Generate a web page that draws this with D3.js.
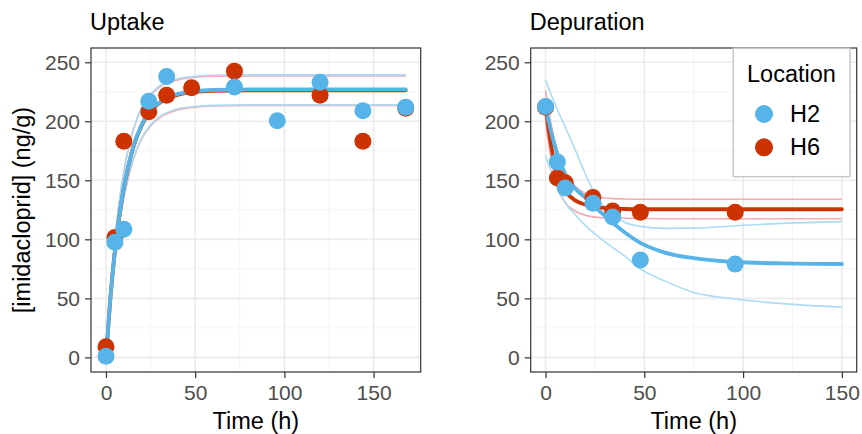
<!DOCTYPE html>
<html>
<head>
<meta charset="utf-8">
<script src="https://cdn.jsdelivr.net/npm/d3@7"></script>
<style>
  html, body { margin: 0; padding: 0; background: #fff; }
  svg { display: block; font-family: "Liberation Sans", Arial, sans-serif; }
</style>
</head>
<body>
<svg id="chart" width="862" height="434"></svg>
<script>
// ── Data ─────────────────────────────────────────────────
const locations = ['H2', 'H6'];
const yTicks    = [0, 50, 100, 150, 200, 250];
const xTicks    = [0, 50, 100, 150];

// Uptake: measured concentrations (null = no sample shown)
const uptakeTime = [0, 5, 10, 24, 34, 48, 72, 96, 120, 144, 168];
const uptakeH2   = [1, 97.5, 108.5, 217, 238, null, 229, 200.5, 233, 209, 212];
const uptakeH6   = [9, 101.5, 183, 208, 222, 228.5, 242.5, null, 222, 183, 211];

// Uptake: fitted curve and its bounds
const uptakeFitTime = [0, 2.5, 5, 7.5, 10, 12.5, 15, 20, 25, 30, 40, 50, 60, 80, 120, 168];
const uptakeFitH2   = [0, 51, 90, 120, 144, 162, 177, 197, 209, 216, 223, 225.5, 226.5, 227, 227, 227];
const uptakeHiH2    = [0, 57, 100, 133, 158, 177, 192, 212, 223, 230, 236, 238.2, 239, 239.3, 239.3, 239.3];
const uptakeLoH2    = [0, 48, 85, 114, 136, 153, 167, 186, 197, 204, 210.5, 212.6, 213.5, 214, 214, 214];
const uptakeFitH6   = [0, 51, 90, 119.5, 143.5, 161.5, 176.5, 196.5, 208.5, 215.5, 222.4, 225, 225.9, 226.3, 226.3, 226.3];
const uptakeHiH6    = [0, 56, 99, 132, 157, 176, 191, 211, 222, 229, 235, 237.3, 238.2, 238.5, 238.5, 238.5];
const uptakeLoH6    = [0, 47.5, 84.5, 113, 135, 152, 166, 185, 196, 203, 209.5, 212, 213, 213.4, 213.5, 213.5];

// Depuration: measured concentrations
const depTime = [0, 6, 10, 24, 34, 48, 96];
const depH2   = [212.5, 165.5, 143.5, 130.5, 119, 82.5, 79];
const depH6   = [212, 152, 148, 135.5, 124, 123, 123];

// Depuration: fitted curve and its bounds
const depFitTime = [0, 3, 6, 10, 15, 20, 24, 30, 34, 40, 48, 60, 75, 96, 120, 150];
const depFitH2   = [212, 190, 172, 155, 143, 135.5, 129, 120, 114, 106, 97, 89, 84, 80.8, 79.6, 79.1];
const depHiH2    = [235, 222, 210, 195, 176, 156, 142, 127, 121, 114.5, 111, 109.3, 109.5, 111.5, 113.5, 115];
const depLoH2    = [171, 157, 145, 131, 121, 112, 106, 98, 93, 86, 75, 65, 55, 49.5, 45.5, 42.5];
const depFitH6   = [212, 178, 155, 141, 133, 129.5, 127.8, 126.5, 126, 125.7, 125.5, 125.5, 125.5, 125.5, 125.5, 125.5];
const depHiH6    = [226, 196, 175, 157, 145, 139, 136.5, 135, 134.5, 134.2, 134, 134, 134, 134, 134, 134];
const depLoH6    = [200, 166, 144, 131, 124, 120.5, 119, 118.2, 118, 117.8, 117.6, 117.5, 117.5, 117.5, 117.5, 117.5];

// ── Style ────────────────────────────────────────────────
const COLOR = { H2: '#56B4E9', H6: '#CC3300' };
const BAND  = { H2: '#ABDCF5', H6: '#F3ABB5' };
const TOP = 48, BOTTOM = 372;

const svg = d3.select('#chart');

const y = d3.scaleLinear().domain([-12.4, 262.1]).range([BOTTOM, TOP]);

const zip = (xs, ys) => xs.map((t, i) => ({ t, v: ys[i] })).filter(d => d.v != null);

const panels = [
  {
    title: 'Uptake', left: 91, right: 420.7, xmax: 176.4, xmin: -8.4,
    points: { H2: zip(uptakeTime, uptakeH2), H6: zip(uptakeTime, uptakeH6) },
    fit:    { H2: zip(uptakeFitTime, uptakeFitH2), H6: zip(uptakeFitTime, uptakeFitH6) },
    bands:  {
      H2: [zip(uptakeFitTime, uptakeHiH2), zip(uptakeFitTime, uptakeLoH2)],
      H6: [zip(uptakeFitTime, uptakeHiH6), zip(uptakeFitTime, uptakeLoH6)]
    },
    yLabel: true, legend: false
  },
  {
    title: 'Depuration', left: 530.7, right: 856.7, xmax: 157.5, xmin: -7.5,
    points: { H2: zip(depTime, depH2), H6: zip(depTime, depH6) },
    fit:    { H2: zip(depFitTime, depFitH2), H6: zip(depFitTime, depFitH6) },
    bands:  {
      H2: [zip(depFitTime, depHiH2), zip(depFitTime, depLoH2)],
      H6: [zip(depFitTime, depHiH6), zip(depFitTime, depLoH6)]
    },
    yLabel: false, legend: true
  }
];

panels.forEach((p, pi) => {
  const x = d3.scaleLinear().domain([p.xmin, p.xmax]).range([p.left, p.right]);
  const g = svg.append('g');

  // Background grid — minor first, then major
  const minorX = d3.range(25, p.xmax, 50);
  const minorY = d3.range(25, 262, 50);
  const grid = g.append('g');
  grid.selectAll('.mx').data(minorX).join('line')
    .attr('x1', d => x(d)).attr('x2', d => x(d)).attr('y1', TOP).attr('y2', BOTTOM)
    .attr('stroke', '#F4F4F4').attr('stroke-width', 1);
  grid.selectAll('.my').data(minorY).join('line')
    .attr('y1', d => y(d)).attr('y2', d => y(d)).attr('x1', p.left).attr('x2', p.right)
    .attr('stroke', '#F4F4F4').attr('stroke-width', 1);
  grid.selectAll('.Mx').data(xTicks).join('line')
    .attr('x1', d => x(d)).attr('x2', d => x(d)).attr('y1', TOP).attr('y2', BOTTOM)
    .attr('stroke', '#EBEBEB').attr('stroke-width', 1.6);
  grid.selectAll('.My').data(yTicks).join('line')
    .attr('y1', d => y(d)).attr('y2', d => y(d)).attr('x1', p.left).attr('x2', p.right)
    .attr('stroke', '#EBEBEB').attr('stroke-width', 1.6);

  // Clip marks to the panel
  const clipId = 'clip' + pi;
  svg.append('clipPath').attr('id', clipId).append('rect')
    .attr('x', p.left).attr('y', TOP).attr('width', p.right - p.left).attr('height', BOTTOM - TOP);
  const marks = g.append('g').attr('clip-path', `url(#${clipId})`);

  const line = d3.line().x(d => x(d.t)).y(d => y(d.v)).curve(d3.curveMonotoneX);

  // Bounds: red below, blue on top
  ['H6', 'H2'].forEach(loc => {
    p.bands[loc].forEach(b => {
      marks.append('path').datum(b).attr('d', line)
        .attr('fill', 'none').attr('stroke', BAND[loc]).attr('stroke-width', 1.6);
    });
  });
  ['H6', 'H2'].forEach(loc => {
    marks.append('path').datum(p.fit[loc]).attr('d', line)
      .attr('fill', 'none').attr('stroke', COLOR[loc]).attr('stroke-width', 3.8)
      .attr('stroke-linecap', 'round');
  });
  ['H6', 'H2'].forEach(loc => {
    marks.selectAll('.pt-' + loc).data(p.points[loc]).join('circle')
      .attr('cx', d => x(d.t)).attr('cy', d => y(d.v)).attr('r', 8.5)
      .attr('fill', COLOR[loc]);
  });

  // Panel border
  g.append('rect').attr('x', p.left).attr('y', TOP)
    .attr('width', p.right - p.left).attr('height', BOTTOM - TOP)
    .attr('fill', 'none').attr('stroke', '#333333').attr('stroke-width', 1.2);

  // Axes
  const ax = g.append('g').attr('transform', `translate(0,${BOTTOM})`)
    .call(d3.axisBottom(x).tickValues(xTicks).tickSize(6).tickPadding(7));
  const ay = g.append('g').attr('transform', `translate(${p.left},0)`)
    .call(d3.axisLeft(y).tickValues(yTicks).tickSize(6).tickPadding(5));
  [ax, ay].forEach(a => {
    a.select('.domain').remove();
    a.selectAll('.tick line').attr('stroke', '#333333').attr('stroke-width', 1.2);
    a.selectAll('.tick text').attr('fill', '#4D4D4D')
      .style('font-size', '21px').style('font-family', '"Liberation Sans", Arial, sans-serif');
  });

  // Titles
  g.append('text').attr('x', p.left - 1).attr('y', 29.5)
    .style('font-size', '23.5px').attr('fill', '#000').text(p.title);
  g.append('text').attr('x', (p.left + p.right) / 2).attr('y', 429)
    .attr('text-anchor', 'middle').style('font-size', '23.5px').attr('fill', '#000')
    .text('Time (h)');
  if (p.yLabel) {
    g.append('text').attr('transform', `translate(29.5,${(TOP + BOTTOM) / 2}) rotate(-90)`)
      .attr('text-anchor', 'middle').style('font-size', '23.5px').attr('fill', '#000')
      .text('[imidacloprid] (ng/g)');
  }

  // Legend inside the right panel
  if (p.legend) {
    const lg = g.append('g');
    lg.append('rect').attr('x', 733.3).attr('y', 48.3).attr('width', 116.7).attr('height', 128.4)
      .attr('fill', '#fff').attr('stroke', '#C8C8C8').attr('stroke-width', 1.5);
    lg.append('text').attr('x', 747).attr('y', 81.7)
      .style('font-size', '23.5px').attr('fill', '#000').text('Location');
    locations.forEach((loc, i) => {
      const cy = 114 + i * 33.3;
      lg.append('circle').attr('cx', 764).attr('cy', cy).attr('r', 9).attr('fill', COLOR[loc]);
      lg.append('text').attr('x', 790).attr('y', cy + 8)
        .style('font-size', '23.5px').attr('fill', '#000').text(loc);
    });
  }
});
</script>
</body>
</html>
